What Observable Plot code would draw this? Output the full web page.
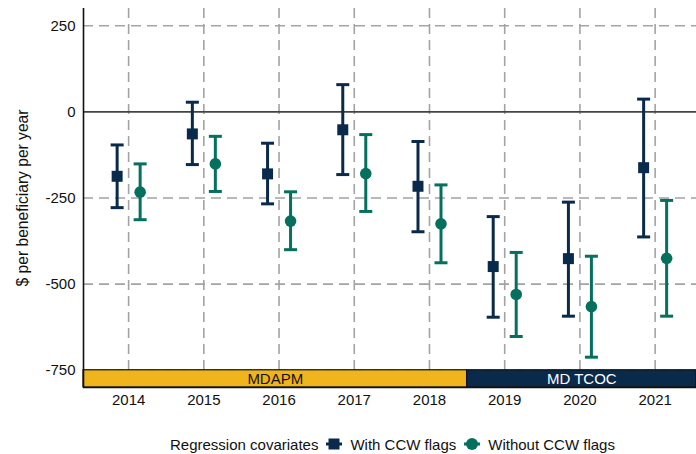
<!DOCTYPE html>
<html>
<head>
<meta charset="utf-8">
<script src="https://cdn.jsdelivr.net/npm/d3@7"></script>
<script src="https://cdn.jsdelivr.net/npm/@observablehq/plot@0.6"></script>
<style>
  html, body { margin: 0; padding: 0; background: #fff; }
  body { width: 696px; height: 454px; overflow: hidden; font-family: "Liberation Sans", Arial, sans-serif; }
  #legend { display: flex; align-items: center; justify-content: flex-start; height: 26px; margin-top: 3px; font-size: 15px; color: #111; padding-left: 170px; }
  #legend span { white-space: nowrap; }
  #legend svg { display: block; margin: 0 7px 0 7px; }
</style>
</head>
<body>
<div id="chart"></div>
<div id="legend"></div>
<script>
// ---- data ----
const years = [2014, 2015, 2016, 2017, 2018, 2019, 2020, 2021];
const withEst  = [-187, -64, -180, -52, -216, -449, -426, -162];
const withLo   = [-278, -153, -267, -182, -348, -596, -593, -363];
const withHi   = [-96, 28, -91, 79, -86, -304, -262, 37];
const withoutEst = [-233, -151, -317, -179, -325, -530, -565, -425];
const withoutLo  = [-313, -231, -400, -289, -438, -652, -712, -593];
const withoutHi  = [-151, -71, -232, -66, -212, -408, -419, -257];
const seriesNames = ["With CCW flags", "Without CCW flags"];
const legendTitle = "Regression covariates";
const yTicks = [250, 0, -250, -500, -750];
const periodLabels = ["MDAPM", "MD TCOC"];
const periodStart = [2013.4, 2018.5];
const periodEnd = [2018.5, 2021.55];
const yLabel = "$ per beneficiary per year";

const navy = "#0a2a4b";
const teal = "#05705d";
const gold = "#f0b41c";

const xDomain = [2013.4, 2021.55];
const yDomain = [-800, 300];

const rowsWith = years.map((y, i) => ({year: y, est: withEst[i], lo: withLo[i], hi: withHi[i]}));
const rowsWithout = years.map((y, i) => ({year: y, est: withoutEst[i], lo: withoutLo[i], hi: withoutHi[i]}));
const periods = periodLabels.map((l, i) => ({label: l, x1: periodStart[i], x2: periodEnd[i], mid: (periodStart[i] + periodEnd[i]) / 2}));

const capSymbol = { draw(ctx, size) { const r = Math.sqrt(size / Math.PI); ctx.moveTo(-r, 0); ctx.lineTo(r, 0); } };

const off = 11.5;
const grid = {stroke: "#a3a3a6", strokeOpacity: 1, strokeWidth: 1.6, strokeDasharray: "10,6"};

function errMarks(rows, color, dx, symbol, r) {
  return [
    Plot.ruleX(rows, {x: "year", y1: "lo", y2: "hi", stroke: color, strokeWidth: 3, dx}),
    Plot.dot(rows, {x: "year", y: "lo", symbol: capSymbol, r: 6.5, stroke: color, strokeWidth: 3, fill: "none", dx}),
    Plot.dot(rows, {x: "year", y: "hi", symbol: capSymbol, r: 6.5, stroke: color, strokeWidth: 3, fill: "none", dx}),
    Plot.dot(rows, {x: "year", y: "est", symbol, r, fill: color, stroke: "none", dx})
  ];
}

const chart = Plot.plot({
  width: 696,
  height: 428,
  marginLeft: 83,
  marginRight: 0,
  marginTop: 8,
  marginBottom: 41,
  style: {fontFamily: "Liberation Sans, Arial, sans-serif", fontSize: "15px", color: "#111", background: "#fff"},
  x: {domain: xDomain, label: null},
  y: {domain: yDomain, label: null},
  marks: [
    Plot.gridX({ticks: years, ...grid}),
    Plot.gridY({ticks: yTicks.filter(d => d !== 0), ...grid}),
    Plot.ruleY([0], {stroke: "#444", strokeWidth: 1.6}),
    Plot.rect(periods, {x1: "x1", x2: "x2", y1: yDomain[0], y2: -750, fill: (d, i) => i === 0 ? gold : navy, stroke: "#111", strokeWidth: 1.2}),
    Plot.text(periods, {x: "mid", y: -775, text: "label", fill: (d, i) => i === 0 ? "#111" : "#fff", fontSize: 15, textAnchor: "middle"}),
    ...errMarks(rowsWith, navy, -off, "square", 6.2),
    ...errMarks(rowsWithout, teal, off, "circle", 5.8),
    Plot.ruleX([xDomain[0]], {y1: yDomain[0], y2: yDomain[1], stroke: "#111", strokeWidth: 1.6}),
    Plot.ruleY([yDomain[0]], {stroke: "#111", strokeWidth: 1.6}),
    Plot.axisY({ticks: yTicks, tickSize: 0, tickPadding: 8, label: null, tickFormat: d => String(d), fontSize: 15}),
    Plot.axisX({ticks: years, tickSize: 0, tickPadding: 7, label: null, tickFormat: d => String(d), fontSize: 15}),
    Plot.text([yLabel], {frameAnchor: "left", rotate: -90, dx: -61, textAnchor: "middle", fontSize: 15.6, fill: "#111"})
  ]
});
document.getElementById("chart").appendChild(chart);

// legend
const lg = document.getElementById("legend");
const t = document.createElement("span"); t.textContent = legendTitle; lg.appendChild(t);
function key(color, shape) {
  const s = d3.create("svg").attr("width", 18).attr("height", 16);
  s.append("line").attr("x1", 1).attr("x2", 17).attr("y1", 8).attr("y2", 8).attr("stroke", color).attr("stroke-width", 3);
  if (shape === "square") s.append("rect").attr("x", 3.5).attr("y", 2.5).attr("width", 11).attr("height", 11).attr("fill", color);
  else s.append("circle").attr("cx", 9).attr("cy", 8).attr("r", 6).attr("fill", color);
  return s.node();
}
lg.appendChild(key(navy, "square"));
const a = document.createElement("span"); a.textContent = seriesNames[0]; lg.appendChild(a);
lg.appendChild(key(teal, "circle"));
const b = document.createElement("span"); b.textContent = seriesNames[1]; lg.appendChild(b);
</script>
</body>
</html>
